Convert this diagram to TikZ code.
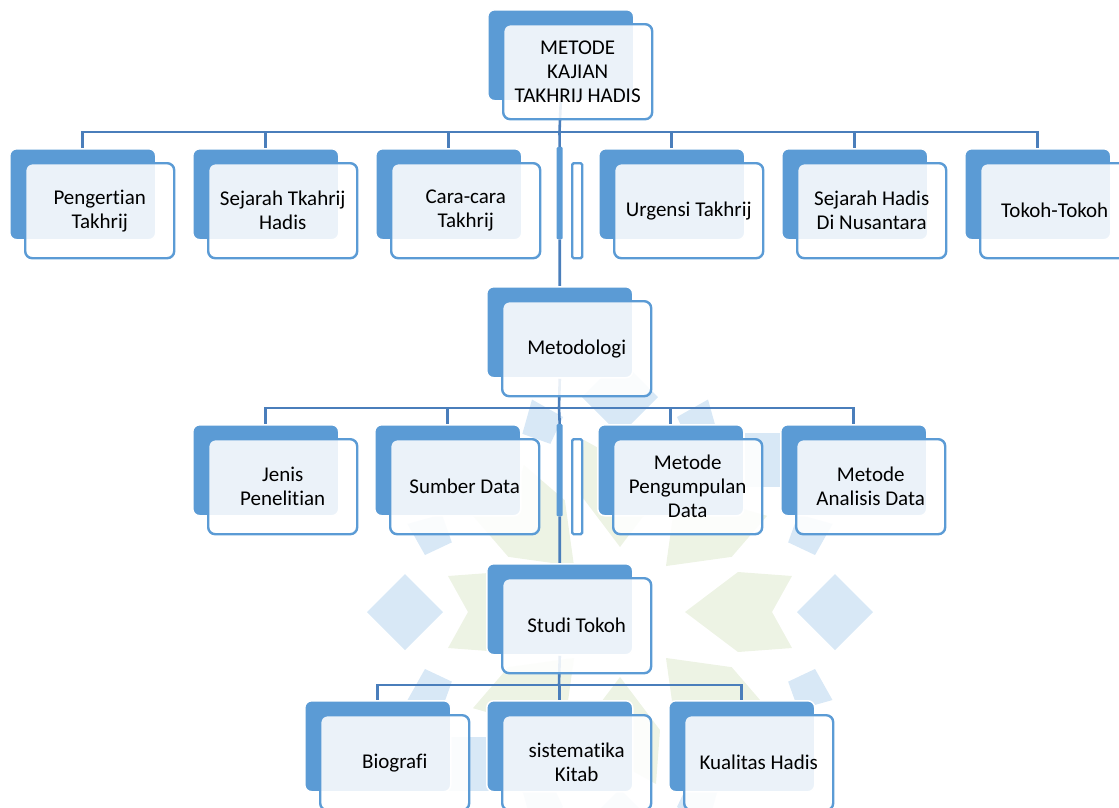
\documentclass[tikz,border=0pt]{standalone}
\usepackage{fontspec}
\setmainfont{Carlito}[Ligatures=NoCommon]
\usetikzlibrary{backgrounds}
\pgfdeclarelayer{wm}
\pgfdeclarelayer{bg}
\pgfsetlayers{wm,bg,main}
\definecolor{boxblue}{HTML}{5B9BD5}
\definecolor{lineblue}{HTML}{4A7EBB}
\definecolor{wmblue}{RGB}{216,232,246}
\definecolor{wmgreen}{RGB}{237,243,228}
\tikzset{
 backbox/.style={fill=boxblue, draw=white, line width=1.5pt, rounded corners=7pt, minimum width=146pt, minimum height=91pt, anchor=north west, inner sep=0pt},
 frontbox/.style={fill=white, fill opacity=0.88, text opacity=1, draw=boxblue, line width=2.4pt, rounded corners=7pt, minimum width=149pt, minimum height=95pt, anchor=north west, align=center, font=\fontsize{21}{24}\selectfont, inner sep=0pt},
 thinback/.style={fill=boxblue, draw=none, rounded corners=1pt, minimum width=6pt, minimum height=92pt, anchor=north west, inner sep=0pt},
 thinfront/.style={fill=white, fill opacity=0.88, draw=boxblue, line width=2.4pt, rounded corners=1.5pt, minimum width=10pt, minimum height=95pt, anchor=north west, inner sep=0pt},
 conn/.style={draw=lineblue, line width=2.6pt},
 wmb/.style={fill=wmblue},
 wmg/.style={fill=wmgreen}
}
\begin{document}
\begin{tikzpicture}[x=1pt,y=-1pt]
\useasboundingbox (0,0) rectangle (1119,807);

% faint watermark logo
\begin{pgfonlayer}{wm}
\begin{scope}[shift={(620,612)}]
\foreach \a in {0,45,...,315}{
  \fill[wmg, rotate=\a] (65,0) -- (118,-40) -- (172,-36) -- (152,0) -- (172,36) -- (118,40) -- cycle;
  \fill[wmb, rotate=\a] (177,0) -- (215,-38) -- (253,0) -- (215,38) -- cycle;
  \fill[wmb, rotate=\a+22.5] (182,0) -- (202,-22) -- (230,0) -- (202,22) -- cycle;
}
\end{scope}
\end{pgfonlayer}

% top
\node[backbox] (T) at (487,9) {};
\node[frontbox] (Tf) at (502,23) {METODE\\KAJIAN\\TAKHRIJ HADIS};

% level 1
\node[backbox] (L1a) at (9,148) {};
\node[frontbox] (L1af) at (24,162) {Pengertian\\Takhrij};
\node[backbox] (L1b) at (192,148) {};
\node[frontbox] (L1bf) at (207,162) {Sejarah Tkahrij\\Hadis};
\node[backbox] (L1c) at (375,148) {};
\node[frontbox] (L1cf) at (390,162) {Cara-cara\\Takhrij};
\node[thinback] (L1h) at (556.5,147) {};
\node[thinfront] (L1hf) at (571,162) {};
\node[backbox] (L1d) at (598,148) {};
\node[frontbox] (L1df) at (613,162) {Urgensi Takhrij};
\node[backbox] (L1e) at (781,148) {};
\node[frontbox] (L1ef) at (796,162) {Sejarah Hadis\\Di Nusantara};
\node[backbox] (L1f) at (964,148) {};
\node[frontbox] (L1ff) at (979,162) {Tokoh-Tokoh};

% metodologi
\node[backbox] (M) at (486,286) {};
\node[frontbox] (Mf) at (501,300) {Metodologi};

% level 2
\node[backbox] (L2a) at (192,424) {};
\node[frontbox] (L2af) at (207,438) {Jenis\\Penelitian};
\node[backbox] (L2b) at (374,424) {};
\node[frontbox] (L2bf) at (389,438) {Sumber Data};
\node[thinback] (L2h) at (556.5,424) {};
\node[thinfront] (L2hf) at (571,438) {};
\node[backbox] (L2c) at (597,424) {};
\node[frontbox] (L2cf) at (612,438) {Metode\\Pengumpulan\\Data};
\node[backbox] (L2d) at (780,424) {};
\node[frontbox] (L2df) at (795,438) {Metode\\Analisis Data};

% studi tokoh
\node[backbox] (S) at (486,563) {};
\node[frontbox] (Sf) at (501,577) {Studi Tokoh};

% level 3
\node[backbox] (L3a) at (304,700) {};
\node[frontbox] (L3af) at (319,714) {Biografi};
\node[backbox] (L3b) at (486,700) {};
\node[frontbox] (L3bf) at (501,714) {sistematika\\Kitab};
\node[backbox] (L3c) at (668,700) {};
\node[frontbox] (L3cf) at (683,714) {Kualitas Hadis};

% connectors
\begin{pgfonlayer}{bg}
\coordinate (b1) at (559.5,132);
\draw[conn] (T.south) -- (b1);
\draw[conn] (L1a.north) |- (b1) -| (L1f.north);
\foreach \n in {L1b,L1c,L1d,L1e} \draw[conn] (\n.north) -- (\n.north |- b1);
\draw[conn] (b1) -- (L1h.north);
\draw[conn] (L1h.south) -- (M.north);

\coordinate (b2) at (559,408);
\draw[conn] (M.south) -- (b2);
\draw[conn] (L2a.north) |- (b2) -| (L2d.north);
\foreach \n in {L2b,L2c} \draw[conn] (\n.north) -- (\n.north |- b2);
\draw[conn] (b2) -- (L2h.north);
\draw[conn] (L2h.south) -- (S.north);

\coordinate (b3) at (559,685);
\draw[conn] (S.south) -- (b3);
\draw[conn] (L3a.north) |- (b3) -| (L3c.north);
\draw[conn] (L3b.north) -- (L3b.north |- b3);
\end{pgfonlayer}
\end{tikzpicture}
\end{document}
